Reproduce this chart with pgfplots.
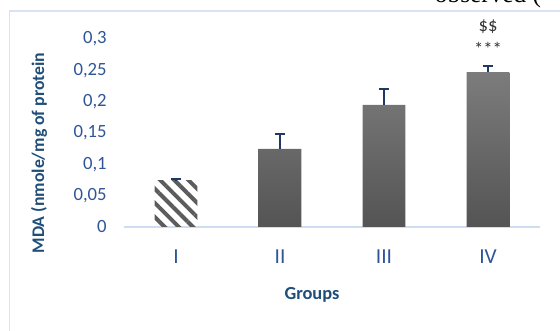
\documentclass[border=0pt]{standalone}
\usepackage{pgfplots}
\pgfplotsset{compat=1.18}
\usepackage{fontspec}
\setmainfont{Carlito}
\newfontfamily\serifface{Liberation Serif}
\usetikzlibrary{patterns.meta}

\definecolor{tickblue}{RGB}{47,85,151}
\definecolor{titleblue}{RGB}{31,78,121}
\definecolor{errnavy}{RGB}{31,56,100}
\definecolor{framecol}{RGB}{218,227,243}
\definecolor{baseline}{RGB}{207,221,241}
\definecolor{bartop}{RGB}{124,124,124}
\definecolor{barbot}{RGB}{84,84,84}
\definecolor{stripe}{RGB}{92,92,92}

\begin{document}
\begin{tikzpicture}
\path[use as bounding box] (0pt,0pt) rectangle (420pt,248.25pt);
\clip (0pt,0pt) rectangle (420pt,248.25pt);
% chart area frame
\draw[framecol, line width=1.1pt] (7.3pt,-20pt) -- (7.3pt,240pt) -- (440pt,240pt);
% running text of the page above the chart
\node[anchor=base west, font=\serifface\fontsize{19}{22}\selectfont, inner sep=0] at (326pt,246.3pt) {observed (};

\begin{axis}[
  at={(93pt,78pt)}, anchor=south west,
  width=312pt, height=141pt, scale only axis,
  xmin=-0.5, xmax=3.5, ymin=0, ymax=0.3,
  clip=false,
  axis x line*=bottom, axis y line*=left,
  x axis line style={draw=baseline, line width=1.4pt, -},
  y axis line style={draw=none},
  tick style={draw=none},
  xtick={0,1,2,3}, xticklabels={I,II,III,IV},
  ytick={0,0.05,0.1,0.15,0.2,0.25,0.3},
  /pgf/number format/fixed, /pgf/number format/precision=2,
  /pgf/number format/use comma, /pgf/number format/assume math mode=true,
  ticklabel style={text=tickblue},
  yticklabel style={anchor=east, xshift=-9.5pt, font=\fontsize{14}{16}\selectfont},
  xticklabel style={anchor=north, yshift=-13.4pt, font=\fontsize{16}{18}\selectfont},
  xlabel={Groups},
  xlabel style={at={(axis description cs:0.452,-0.362)}, anchor=center, font=\bfseries\fontsize{13.8}{16}\selectfont, text=titleblue},
  ylabel={MDA (nmole/mg of protein},
  ylabel style={at={(axis description cs:-0.204,0.394)}, anchor=center, font=\bfseries\fontsize{13.3}{16}\selectfont, text=titleblue},
  error bars/error bar style={errnavy, line width=1.3pt},
  error bars/error mark options={errnavy, line width=1.3pt, mark size=3.9pt, rotate=90},
]
% control group, hatched
\addplot[ybar, bar width=32pt, bar shift=0pt, draw=none,
  pattern={Lines[angle=-45, distance=7.5pt, line width=3pt]}, pattern color=stripe,
  error bars/.cd, y dir=plus, y explicit]
  coordinates {(0,0.0734) +- (0,0.0036)};
% treated groups, shaded bars
\addplot[ybar, bar width=32pt, bar shift=0pt, draw=none,
  top color=bartop, bottom color=barbot,
  error bars/.cd, y dir=plus, y explicit]
  coordinates {
    (1,0.1245) +- (0,0.0235)
    (2,0.1947) +- (0,0.0253)
    (3,0.2473) +- (0,0.0101)
  };
\node[font=\fontsize{14}{16}\selectfont, text=black!80] at (axis cs:3,0.319) {\$\$};
\node[font=\fontsize{14}{16}\selectfont, text=black!80] at (axis cs:3,0.285) {***};
\end{axis}
\end{tikzpicture}
\end{document}
